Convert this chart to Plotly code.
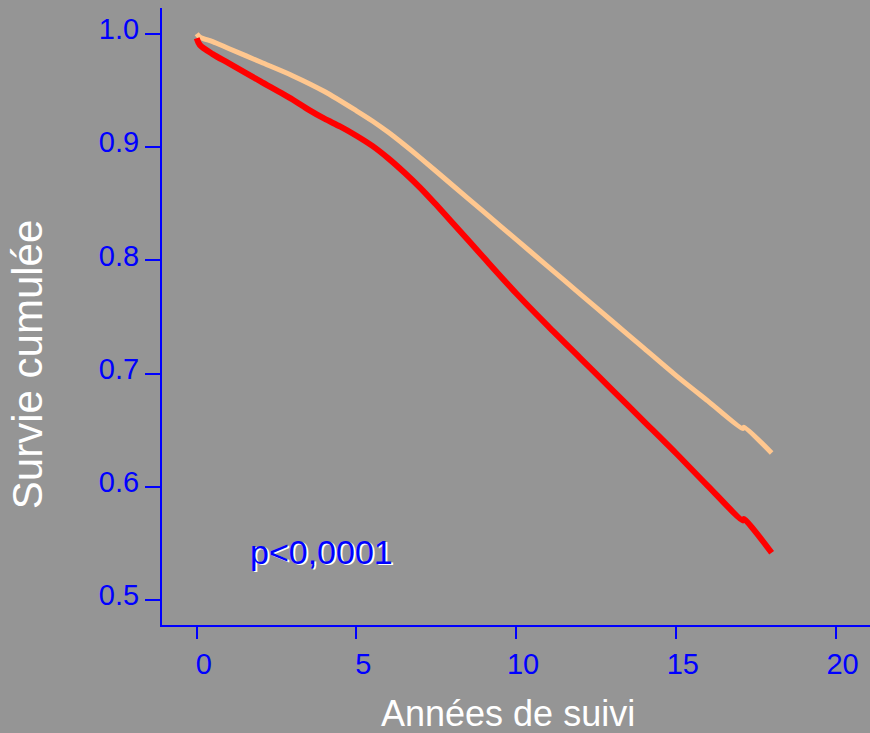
import plotly.graph_objects as go

# ---- data ----
red_x = [0, 0.1, 0.5, 1, 2, 3, 3.5, 4, 4.5, 5, 5.5, 6, 6.5, 7, 7.5, 8, 9, 10,
         11, 12, 13, 14, 15, 16, 17.1, 17.13, 18]
red_y = [0.996, 0.990, 0.982, 0.974, 0.958, 0.942, 0.933, 0.925, 0.918,
         0.910, 0.901, 0.890, 0.8775, 0.864, 0.849, 0.8335, 0.802, 0.771,
         0.742, 0.714, 0.686, 0.658, 0.630, 0.601, 0.5705, 0.5718, 0.542]

peach_x = [0, 0.1, 0.5, 1, 2, 3, 4, 5, 5.5, 6, 6.5, 7, 8,
           9, 10, 11, 12, 13, 14, 15, 16, 17.1, 17.13, 18]
peach_y = [1.0, 0.997, 0.993, 0.987, 0.975, 0.963, 0.949, 0.932, 0.923, 0.913, 0.902,
           0.8905, 0.8665, 0.8425, 0.8185, 0.7945, 0.7705, 0.7465, 0.7225, 0.6985,
           0.676, 0.6515, 0.6528, 0.630]

x_ticks = [0, 5, 10, 15, 20]
y_ticks = [0.5, 0.6, 0.7, 0.8, 0.9, 1.0]
y_ticktext = ["0.5", "0.6", "0.7", "0.8", "0.9", "1.0"]

x_title = "Années de suivi"
y_title = "Survie cumulée"
p_text = "p<0,0001"

FONT = "Liberation Sans, Arial, sans-serif"
BG = "#959595"
BLUE = "#0000FF"

fig = go.Figure()
fig.add_trace(go.Scatter(x=peach_x, y=peach_y, mode="lines",
                         line=dict(color="#FFC78F", width=5, shape="spline", smoothing=0.8),
                         showlegend=False, hoverinfo="skip"))
fig.add_trace(go.Scatter(x=red_x, y=red_y, mode="lines",
                         line=dict(color="#FF0000", width=6, shape="spline", smoothing=0.8),
                         showlegend=False, hoverinfo="skip"))

fig.update_layout(
    width=870, height=733,
    paper_bgcolor=BG, plot_bgcolor=BG,
    margin=dict(l=162, r=0, t=8, b=108),
    font=dict(family=FONT),
    xaxis=dict(range=[-1.086, 21.08], tickvals=x_ticks, ticks="outside", ticklen=12,
               tickwidth=2, tickcolor=BLUE, showline=True, linecolor=BLUE, linewidth=2,
               showgrid=False, zeroline=False, tickfont=dict(size=29, color=BLUE),
               ticklabelshift=7),
    yaxis=dict(range=[0.4782, 1.0227], tickvals=y_ticks, ticktext=y_ticktext,
               ticks="outside", ticklen=15,
               tickwidth=2, tickcolor=BLUE, showline=True, linecolor=BLUE, linewidth=2,
               showgrid=False, zeroline=False, tickfont=dict(size=29, color=BLUE),
               ticklabelshift=-5),
)

# p-value text with white shadow
fig.add_annotation(x=3.92, y=0.5427, xref="x", yref="y", text=p_text, showarrow=False,
                   font=dict(size=34, color="white", family=FONT),
                   xshift=1.5, yshift=-1.5)
fig.add_annotation(x=3.92, y=0.5427, xref="x", yref="y", text=p_text, showarrow=False,
                   font=dict(size=34, color=BLUE, family=FONT))

# axis titles
fig.add_annotation(x=0.488, y=-0.1442, xref="paper", yref="paper", text=x_title,
                   showarrow=False, xanchor="center", yanchor="middle",
                   font=dict(size=36, color="white", family=FONT))
fig.add_annotation(x=-0.189, y=0.4214, xref="paper", yref="paper", text=y_title,
                   showarrow=False, xanchor="center", yanchor="middle", textangle=-90,
                   font=dict(size=42, color="white", family=FONT))

fig.write_html("out.html", config={"displayModeBar": False},
               post_script="document.body.style.margin='0';document.body.style.background='#959595';")
